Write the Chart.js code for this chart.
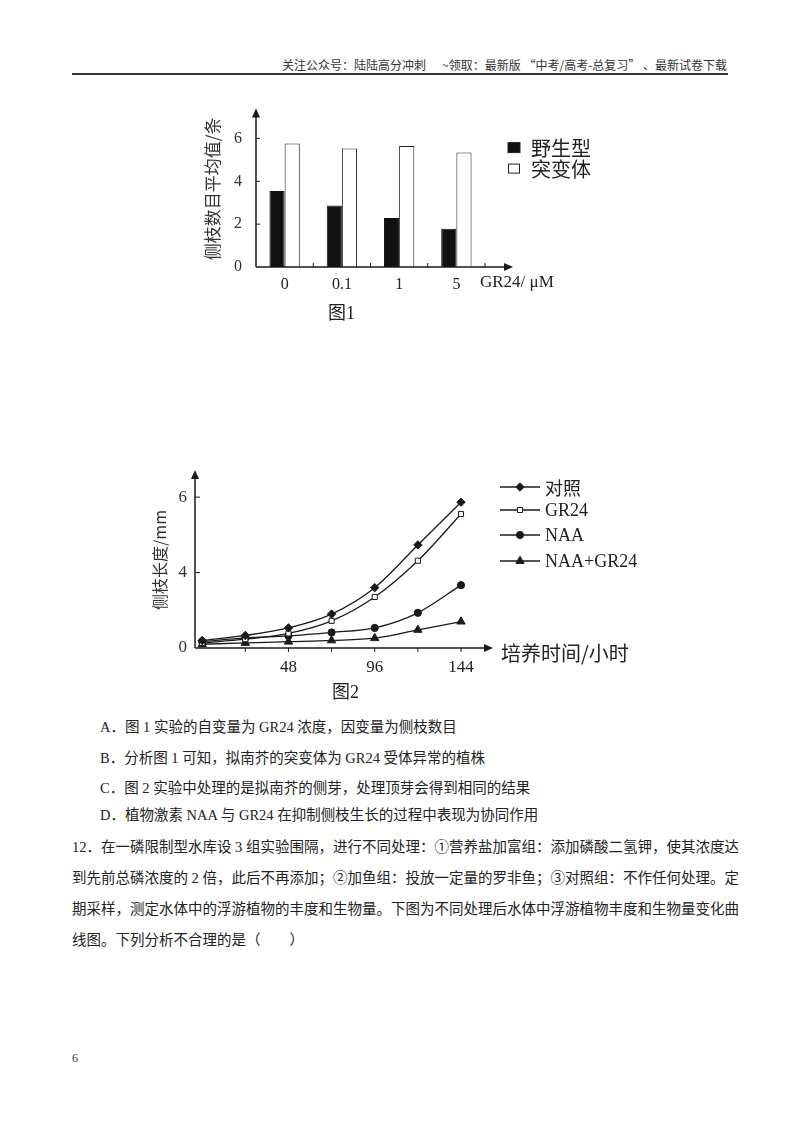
<!DOCTYPE html>
<html><head><meta charset="utf-8">
<script src="https://cdn.jsdelivr.net/npm/chart.js@4.4.1/dist/chart.umd.min.js"></script>
<style>
html,body{margin:0;padding:0;background:#fff;}
#page{position:relative;width:800px;height:1132px;overflow:hidden;background:#fff;font-family:"Liberation Serif","Noto Sans CJK SC",serif;color:#222;}
.abs{position:absolute;white-space:nowrap;}
.hdr{right:73px;top:56px;font-size:12px;color:#333;font-family:"Noto Sans CJK SC",sans-serif;}
.rule{left:72px;top:73px;width:656px;height:2px;background:#333;}
.cap{font-size:18px;font-family:"Liberation Serif","Noto Sans CJK SC",serif;color:#222;}
.ln{font-size:14.5px;line-height:16px;color:#222;}
.just{width:656px;text-align:justify;text-align-last:justify;}
canvas{position:absolute;}
</style></head>
<body><div id="page">
<div class="abs hdr">关注公众号：陆陆高分冲刺&nbsp;&nbsp;&nbsp;&nbsp;&nbsp;&nbsp;~领取：最新版 “中考/高考-总复习” 、最新试卷下载</div>
<div class="abs rule"></div>

<canvas id="c1" width="450" height="215" style="left:150px;top:95px;"></canvas>
<div class="abs cap" style="left:328px;top:298px;">图1</div>

<canvas id="c2" width="530" height="225" style="left:130px;top:460px;"></canvas>
<div class="abs cap" style="left:332px;top:677px;">图2</div>

<div class="abs ln" style="left:100px;top:719px;">A．图 1 实验的自变量为 GR24 浓度，因变量为侧枝数目</div>
<div class="abs ln" style="left:100px;top:750px;">B．分析图 1 可知，拟南芥的突变体为 GR24 受体异常的植株</div>
<div class="abs ln" style="left:100px;top:780px;">C．图 2 实验中处理的是拟南芥的侧芽，处理顶芽会得到相同的结果</div>
<div class="abs ln" style="left:100px;top:807px;">D．植物激素 NAA 与 GR24 在抑制侧枝生长的过程中表现为协同作用</div>
<div class="abs ln just" style="left:72px;top:839px;">12．在一磷限制型水库设 3 组实验围隔，进行不同处理：①营养盐加富组：添加磷酸二氢钾，使其浓度达</div>
<div class="abs ln just" style="left:72px;top:870px;">到先前总磷浓度的 2 倍，此后不再添加；②加鱼组：投放一定量的罗非鱼；③对照组：不作任何处理。定</div>
<div class="abs ln just" style="left:72px;top:901px;">期采样，测定水体中的浮游植物的丰度和生物量。下图为不同处理后水体中浮游植物丰度和生物量变化曲</div>
<div class="abs ln" style="left:72px;top:932px;">线图。下列分析不合理的是（　　）</div>
<div class="abs" style="left:72px;top:1051px;font-size:12px;color:#333;">6</div>
</div>
<script>
// ---------- Figure 1 data ----------
const categories1 = ['0', '0.1', '1', '5'];
const wildType = [3.55, 2.87, 2.29, 1.78];
const mutant = [5.76, 5.53, 5.65, 5.34];
const yTicks1 = [0, 2, 4, 6];
const legend1 = ['野生型', '突变体'];

// ---------- Figure 2 data ----------
const hours = [0, 24, 48, 72, 96, 120, 144];
const control = [0.30, 0.50, 0.80, 1.35, 2.40, 4.10, 5.80];
const gr24 = [0.20, 0.35, 0.58, 1.08, 2.03, 3.47, 5.33];
const naa = [0.25, 0.40, 0.48, 0.62, 0.80, 1.40, 2.50];
const naaGr24 = [0.15, 0.20, 0.25, 0.30, 0.39, 0.72, 1.05];
const xTickValues2 = [24, 48, 72, 96, 120, 144];
const xTickLabels2 = ['', '48', '', '96', '', '144'];
const yTickValues2 = [0, 3, 6];
const yTickLabels2 = ['0', '4', '6'];
const legend2 = ['对照', 'GR24', 'NAA', 'NAA+GR24'];

const INK = '#1a1a1a';
const SERIF = '"Liberation Serif", "Noto Sans CJK SC", serif';
const CJK = '"Noto Sans CJK SC", sans-serif';

function arrowUp(ctx, x, y) {
  ctx.beginPath(); ctx.moveTo(x, y - 2); ctx.lineTo(x - 4, y + 7); ctx.lineTo(x + 4, y + 7); ctx.closePath(); ctx.fill();
}
function arrowRight(ctx, x, y) {
  ctx.beginPath(); ctx.moveTo(x, y); ctx.lineTo(x - 9, y - 4); ctx.lineTo(x - 9, y + 4); ctx.closePath(); ctx.fill();
}

// ---------- Figure 1 ----------
const deco1 = {
  id: 'deco1',
  afterDraw(chart) {
    const {ctx, chartArea: a, scales: {x, y}} = chart;
    ctx.save();
    ctx.strokeStyle = INK; ctx.fillStyle = INK; ctx.lineWidth = 1.5;
    ctx.beginPath(); ctx.moveTo(a.left, a.bottom); ctx.lineTo(a.left, a.top + 4); ctx.stroke();
    arrowUp(ctx, a.left, a.top);
    const xEnd = a.right + 28;
    ctx.beginPath(); ctx.moveTo(a.left, a.bottom); ctx.lineTo(xEnd - 6, a.bottom); ctx.stroke();
    arrowRight(ctx, xEnd, a.bottom);
    ctx.lineWidth = 1;
    yTicks1.forEach(v => { if (v === 0) return; const py = y.getPixelForValue(v); ctx.beginPath(); ctx.moveTo(a.left, py); ctx.lineTo(a.left + 4, py); ctx.stroke(); });
    const half = (x.getPixelForValue(1) - x.getPixelForValue(0)) / 2;
    categories1.forEach((c, i) => { const px = x.getPixelForValue(i) + half; ctx.beginPath(); ctx.moveTo(px, a.bottom); ctx.lineTo(px, a.bottom - 4); ctx.stroke(); });
    // axis unit
    ctx.font = '17px ' + SERIF; ctx.fillStyle = '#222'; ctx.textBaseline = 'middle'; ctx.textAlign = 'left';
    ctx.fillText('GR24/ μM', a.right - 5, a.bottom + 16);
    // legend
    const lx = a.right + 23, rows = [a.top + 37, a.top + 58];
    ctx.lineWidth = 1;
    ctx.fillStyle = '#111'; ctx.fillRect(lx, rows[0] - 5, 12, 10);
    ctx.strokeStyle = '#222'; ctx.strokeRect(lx, rows[0] - 5, 12, 10);
    ctx.fillStyle = '#fff'; ctx.fillRect(lx + 0.5, rows[1] - 5 + 0.5, 11, 9); ctx.strokeRect(lx + 0.5, rows[1] - 5 + 0.5, 11, 9);
    ctx.fillStyle = '#222'; ctx.font = '20px ' + CJK;
    legend1.forEach((t, i) => ctx.fillText(t, lx + 23, rows[i] + 1));
    ctx.restore();
  }
};

new Chart(document.getElementById('c1'), {
  type: 'bar',
  data: {
    labels: categories1,
    datasets: [
      {label: legend1[0], data: wildType, backgroundColor: '#111', borderColor: '#111', borderWidth: 1},
      {label: legend1[1], data: mutant, backgroundColor: '#fff', borderColor: '#222', borderWidth: 1}
    ]
  },
  options: {
    responsive: false, animation: false, devicePixelRatio: 1,
    layout: {padding: {left: 50, right: 115, top: 15, bottom: 13}},
    plugins: {legend: {display: false}, tooltip: {enabled: false}},
    datasets: {bar: {barPercentage: 1, categoryPercentage: 0.53}},
    scales: {
      x: {
        grid: {display: false}, border: {display: false},
        ticks: {color: '#222', font: {family: SERIF, size: 16}, padding: 0, maxRotation: 0, autoSkip: false},
        afterFit: s => { s.height = 30; }
      },
      y: {
        min: 0, max: 7.3,
        grid: {display: false}, border: {display: false},
        afterBuildTicks: s => { s.ticks = yTicks1.map(v => ({value: v})); },
        ticks: {color: '#333', font: {family: SERIF, size: 16}, padding: 6, callback: v => String(v)},
        title: {display: true, text: '侧枝数目平均值/条', color: '#333', font: {family: CJK, size: 17}, padding: {top: 2, bottom: 0}},
        afterFit: s => { s.width = 56; }
      }
    }
  },
  plugins: [deco1]
});

// ---------- Figure 2 ----------
const styles2 = [
  {pointStyle: 'rectRot', radius: 4.2, fill: INK},
  {pointStyle: 'rect', radius: 3.6, fill: '#fff'},
  {pointStyle: 'circle', radius: 3.6, fill: INK},
  {pointStyle: 'triangle', radius: 4.8, fill: INK}
];
const series2 = [control, gr24, naa, naaGr24];

const deco2 = {
  id: 'deco2',
  afterDraw(chart) {
    const {ctx, chartArea: a, scales: {x, y}} = chart;
    ctx.save();
    ctx.strokeStyle = INK; ctx.fillStyle = INK; ctx.lineWidth = 1.5;
    ctx.beginPath(); ctx.moveTo(a.left, a.bottom); ctx.lineTo(a.left, a.top + 4); ctx.stroke();
    arrowUp(ctx, a.left, a.top);
    const xEnd = a.right + 32;
    ctx.beginPath(); ctx.moveTo(a.left, a.bottom); ctx.lineTo(xEnd - 6, a.bottom); ctx.stroke();
    arrowRight(ctx, xEnd, a.bottom);
    ctx.lineWidth = 1;
    yTickValues2.forEach(v => { if (v === 0) return; const py = y.getPixelForValue(v); ctx.beginPath(); ctx.moveTo(a.left, py); ctx.lineTo(a.left + 5, py); ctx.stroke(); });
    xTickValues2.forEach(v => { const px = x.getPixelForValue(v); ctx.beginPath(); ctx.moveTo(px, a.bottom); ctx.lineTo(px, a.bottom + 4); ctx.stroke(); });
    // axis title at arrow
    ctx.fillStyle = '#222'; ctx.textBaseline = 'middle'; ctx.textAlign = 'left';
    ctx.font = '20px ' + CJK;
    ctx.fillText('培养时间/小时', xEnd + 8, a.bottom + 5);
    // legend
    const lx = a.right + 39, rows = [a.top + 15, a.top + 38, a.top + 63, a.top + 89];
    legend2.forEach((t, i) => {
      const yy = rows[i];
      ctx.strokeStyle = INK; ctx.lineWidth = 1.3;
      ctx.beginPath(); ctx.moveTo(lx, yy); ctx.lineTo(lx + 40, yy); ctx.stroke();
      const st = styles2[i];
      ctx.fillStyle = st.fill; ctx.strokeStyle = INK; ctx.lineWidth = 1;
      Chart.helpers.drawPoint(ctx, {pointStyle: st.pointStyle, radius: st.radius, borderWidth: 1}, lx + 20, yy);
      ctx.fillStyle = '#222';
      ctx.font = (i === 0 ? '18px ' + CJK : '18px ' + SERIF);
      ctx.fillText(t, lx + 45, yy + 1);
    });
    ctx.restore();
  }
};

new Chart(document.getElementById('c2'), {
  type: 'line',
  data: {
    datasets: series2.map((arr, i) => ({
      label: legend2[i],
      data: hours.map((h, k) => ({x: h, y: arr[k]})),
      borderColor: INK, borderWidth: 1.3,
      pointStyle: styles2[i].pointStyle, pointRadius: styles2[i].radius,
      pointBackgroundColor: styles2[i].fill, pointBorderColor: INK, pointBorderWidth: 1,
      cubicInterpolationMode: 'monotone', fill: false, clip: false
    }))
  },
  options: {
    responsive: false, animation: false, devicePixelRatio: 1,
    layout: {padding: {left: 5, right: 199, top: 12, bottom: 7}},
    plugins: {legend: {display: false}, tooltip: {enabled: false}},
    scales: {
      x: {
        type: 'linear', min: -4, max: 144,
        grid: {display: false}, border: {display: false},
        afterBuildTicks: s => { s.ticks = xTickValues2.map(v => ({value: v})); },
        ticks: {color: '#222', font: {family: SERIF, size: 17}, padding: 1, maxRotation: 0, autoSkip: false,
                callback: (v, i) => xTickLabels2[i]},
        afterFit: s => { s.height = 30; }
      },
      y: {
        min: 0, max: 7,
        grid: {display: false}, border: {display: false},
        afterBuildTicks: s => { s.ticks = yTickValues2.map(v => ({value: v})); },
        ticks: {color: '#333', font: {family: SERIF, size: 17}, padding: 0, callback: (v, i) => yTickLabels2[i]},
        title: {display: true, text: '侧枝长度/mm', color: '#333', font: {family: CJK, size: 16}, padding: {top: 15, bottom: 0}},
        afterFit: s => { s.width = 60; }
      }
    }
  },
  plugins: [deco2]
});
</script>
</body></html>
